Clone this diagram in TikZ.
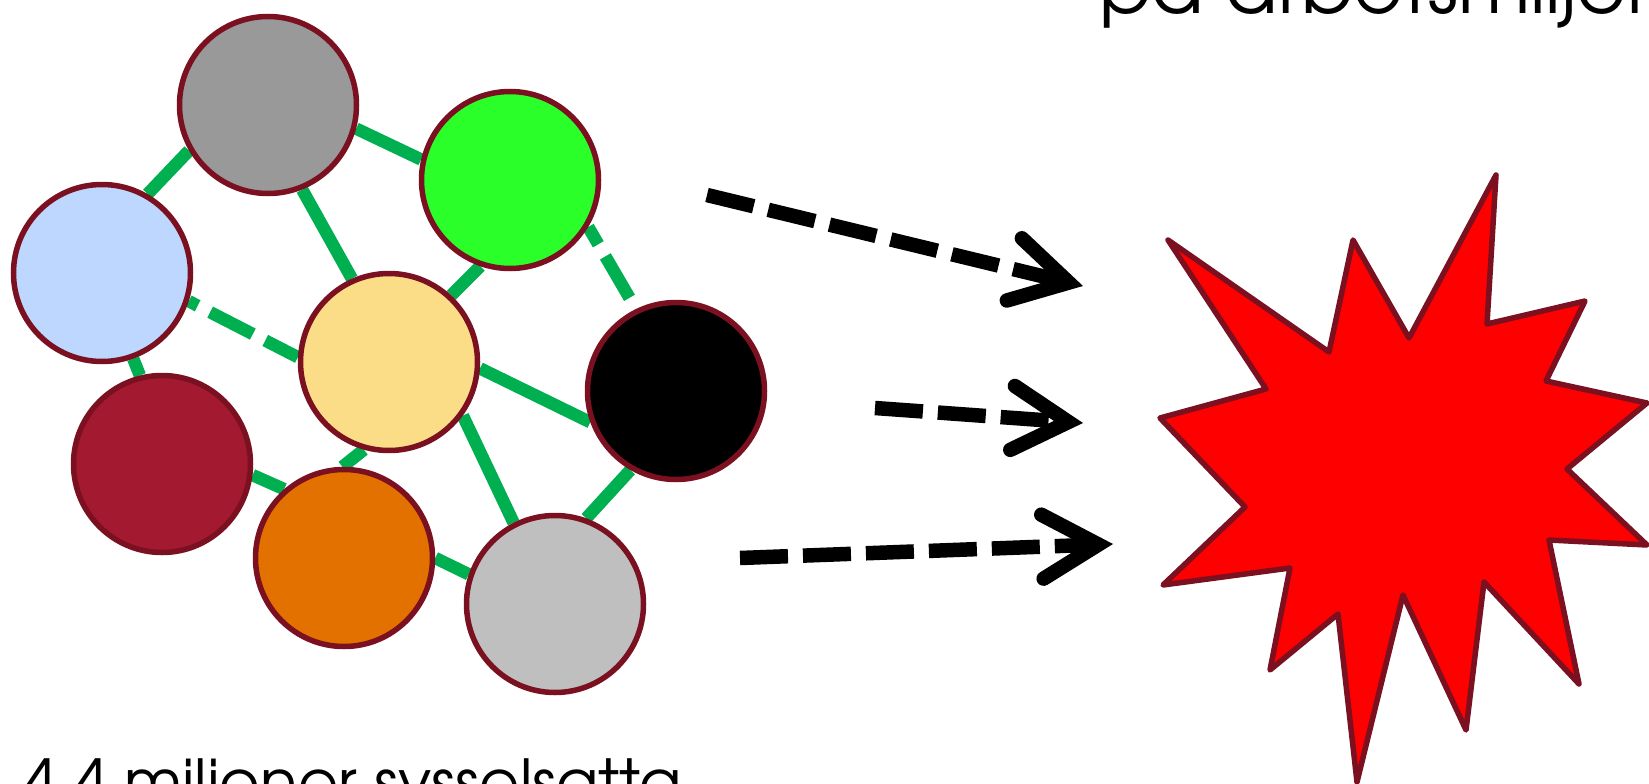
\documentclass[tikz,border=0pt]{standalone}
\usepackage{fontspec}
\setmainfont{TeX Gyre Adventor}
\usepackage{tikz}
\usetikzlibrary{arrows.meta}
\usetikzlibrary{backgrounds}
\definecolor{rim}{RGB}{122,16,32}
\definecolor{linkgreen}{RGB}{0,176,80}
\definecolor{cgrey}{RGB}{153,153,153}
\definecolor{cgreen}{RGB}{42,255,42}
\definecolor{cblue}{RGB}{189,215,255}
\definecolor{cyellow}{RGB}{252,221,135}
\definecolor{cred}{RGB}{163,25,48}
\definecolor{corange}{RGB}{226,113,0}
\definecolor{clgrey}{RGB}{191,191,191}
\definecolor{starred}{RGB}{255,0,0}
\tikzset{
    ball/.style={circle,draw=rim,line width=5.5pt,minimum size=177pt,inner sep=0pt},
    link/.style={linkgreen,line width=12.5pt},
    dlink/.style={link,dash pattern=on 48pt off 14pt,dash phase=#1},
    flow/.style={line width=14.5pt,dash pattern=on 48pt off 15pt,-{Straight Barb[length=56pt,width=64pt,line cap=round,line join=miter]}},
    caption/.style={anchor=base west,inner sep=0pt}
}

\begin{document}
\begin{tikzpicture}[x=1pt,y=-1pt]
\useasboundingbox (0,0) rectangle (1649,784);
\clip (0,0) rectangle (1649,784);
\foreach \x/\y/\p/\c in {268/105/ga/cgrey, 510/180/gn/cgreen, 102/273/lb/cblue, 389/362/ye/cyellow, 676/391/bk/black, 162/464/rd/cred, 344/558/og/corange, 555/604/lg/clgrey}{
    \node[ball,fill=\c] (\p) at (\x,\y) {};
}
\begin{scope}[on background layer]
\foreach \a/\b in {ga.210/lb.60, ga.345/gn.167, ga.292/ye.114, gn.251/ye.47, lb.290/rd.104, ye.356/bk.200, ye.254/og.91, ye.324/lg.117, rd.353/og.131, og.0/lg.161, bk.240/lg.70}
    \draw[link] (\a) -- (\b);
\draw[dlink=38pt] (lb.342) -- (ye.177);
\draw[dlink=28pt] (gn.329) -- (bk.116);
\end{scope}
\foreach \i/\tx/\ty/\hx/\hy in {1/707/195/1083/286, 2/875/408/1083/423, 3/740/558/1113/544}{
    \coordinate (t\i) at (\tx,\ty);
    \coordinate (h\i) at (\hx,\hy);
    \draw[flow] (t\i) -- (h\i);
}
\draw[fill=starred,draw=rim,line width=5.5pt,line join=round] (1168,240) -- (1329,352) -- (1353,240) -- (1409,338) -- (1496,175) -- (1487,324) -- (1585,301) -- (1546,381) -- (1647,403) -- (1567,469) -- (1647,545) -- (1549,540) -- (1579,684) -- (1484,582) -- (1466,730) -- (1403,595) -- (1357,782) -- (1338,614) -- (1270,670) -- (1290,568) -- (1163,585) -- (1245,507) -- (1160,418) -- (1266,389) -- cycle;
\node[caption,font=\fontsize{77}{90}\selectfont] (top) at (1099,14) {på arbetsmiljön};
\node[caption,font=\fontsize{62}{72}\selectfont] (bottom) at (21,804) {4,4 miljoner sysselsatta};
\end{tikzpicture}
\end{document}
